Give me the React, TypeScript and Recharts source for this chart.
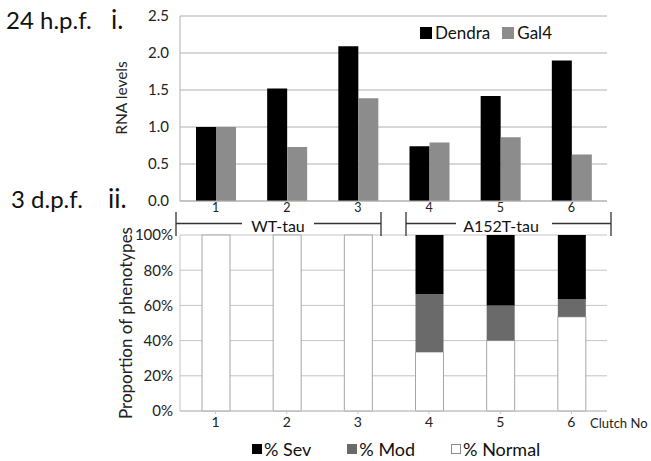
import React from "react";
import {
  BarChart,
  Bar,
  XAxis,
  YAxis,
  CartesianGrid,
  Legend,
} from "recharts";

// clutch numbers on both panels
const clutches = ["1", "2", "3", "4", "5", "6"];

// panel i: relative RNA levels at 24 h.p.f.
const dendra = [1.0, 1.52, 2.09, 0.74, 1.42, 1.9];
const gal4 = [1.0, 0.73, 1.39, 0.79, 0.86, 0.63];
const rnaTicks = [0, 0.5, 1, 1.5, 2, 2.5];

// panel ii: phenotype proportions at 3 d.p.f. (%)
const pctNormal = [100, 100, 100, 33.5, 40, 53.5];
const pctMod = [0, 0, 0, 33, 20, 10];
const pctSev = [0, 0, 0, 33.5, 40, 36.5];
const pctTicks = [0, 20, 40, 60, 80, 100];

const groups = [
  { name: "WT-tau", from: 176, to: 381, textX: 278, gapL: 242, gapR: 314 },
  { name: "A152T-tau", from: 406, to: 611, textX: 501, gapL: 456, gapR: 552 },
];

const rnaSeries = [
  { key: "dendra", name: "Dendra", color: "#000000" },
  { key: "gal4", name: "Gal4", color: "#8c8c8c" },
];

// legend order differs from stacking order (bottom first)
const phenoSeries = [
  { key: "sev", name: "% Sev", color: "#000000" },
  { key: "mod", name: "% Mod", color: "#6a6a6a" },
  { key: "normal", name: "% Normal", color: "#ffffff" },
];

const rnaData = clutches.map((c, i) => ({
  clutch: c,
  dendra: dendra[i],
  gal4: gal4[i],
}));

const phenoData = clutches.map((c, i) => ({
  clutch: c,
  normal: pctNormal[i],
  mod: pctMod[i],
  sev: pctSev[i],
}));

const FONT = "Lato, 'Open Sans', sans-serif";
const GRID = "#b0b0b0";

const SwatchLegend = ({
  items,
  gap,
  box,
  fontSize,
  space,
}: {
  items: { name: string; color: string }[];
  gap: number;
  box: number;
  fontSize: number;
  space: number;
}) => (
  <div
    style={{
      display: "flex",
      gap,
      fontSize,
      lineHeight: "22px",
      color: "#111",
      fontFamily: FONT,
      whiteSpace: "nowrap",
    }}
  >
    {items.map((it) => (
      <span key={it.name} style={{ display: "flex", alignItems: "center" }}>
        <span
          style={{
            display: "inline-block",
            width: box,
            height: box,
            boxSizing: "border-box",
            background: it.color,
            border: `1px solid ${it.color === "#ffffff" ? "#8c8c8c" : it.color}`,
            marginRight: space,
          }}
        />
        {it.name}
      </span>
    ))}
  </div>
);

const Rotated = ({ x, y, size, children }: any) => (
  <text
    x={x}
    y={y}
    transform={`rotate(-90 ${x} ${y})`}
    textAnchor="middle"
    dominantBaseline="central"
    fontSize={size}
    fill="#222"
  >
    {children}
  </text>
);

export default function App() {
  return (
    <div
      style={{
        position: "absolute",
        left: 0,
        top: 0,
        width: 651,
        height: 461,
        background: "#fff",
        fontFamily: FONT,
      }}
    >
      <div style={{ position: "absolute", left: 0, top: 0 }}>
        <BarChart
          width={651}
          height={216}
          data={rnaData}
          margin={{ top: 16, right: 44, bottom: 0, left: 0 }}
          barGap={0}
          barSize={20}
        >
          <CartesianGrid vertical={false} stroke={GRID} />
          <XAxis
            dataKey="clutch"
            height={15}
            tickLine={false}
            tickSize={0}
            tickMargin={2}
            axisLine={{ stroke: GRID }}
            tick={{ fontSize: 12.5, fill: "#222" }}
          />
          <YAxis
            width={180}
            domain={[0, 2.5]}
            ticks={rnaTicks}
            tickFormatter={(v: number) => v.toFixed(1)}
            tickLine={false}
            tickSize={0}
            tickMargin={11}
            axisLine={{ stroke: GRID }}
            tick={{ fontSize: 15, fill: "#222" }}
          />
          <Legend
            layout="horizontal"
            verticalAlign="middle"
            wrapperStyle={{ top: 22, left: 420, width: 200 }}
            content={() => (
              <SwatchLegend
                items={rnaSeries}
                gap={12}
                box={12}
                fontSize={17}
                space={3}
              />
            )}
          />
          {rnaSeries.map((s) => (
            <Bar
              key={s.key}
              dataKey={s.key}
              name={s.name}
              fill={s.color}
              isAnimationActive={false}
            />
          ))}
        </BarChart>
      </div>

      <div style={{ position: "absolute", left: 0, top: 225 }}>
        <BarChart
          width={651}
          height={236}
          data={phenoData}
          margin={{ top: 10, right: 44, bottom: 24, left: 0 }}
          barSize={28}
        >
          <CartesianGrid vertical={false} stroke="#c4c4c4" />
          <XAxis
            dataKey="clutch"
            height={26}
            tickSize={3}
            tickMargin={3}
            tickLine={{ stroke: "#c4c4c4" }}
            axisLine={{ stroke: "#c4c4c4" }}
            tick={{ fontSize: 14, fill: "#222" }}
          />
          <YAxis
            width={180}
            domain={[0, 100]}
            ticks={pctTicks}
            tickFormatter={(v: number) => `${v}%`}
            tickLine={false}
            tickSize={0}
            tickMargin={7}
            axisLine={{ stroke: "#c4c4c4" }}
            tick={{ fontSize: 15, fill: "#222" }}
          />
          <Legend
            layout="horizontal"
            verticalAlign="middle"
            wrapperStyle={{ top: 213, left: 252, width: 340 }}
            content={() => (
              <SwatchLegend
                items={phenoSeries}
                gap={36}
                box={10}
                fontSize={18}
                space={2}
              />
            )}
          />
          <Bar
            dataKey="normal"
            name="% Normal"
            stackId="p"
            fill="#ffffff"
            stroke="#a6a6a6"
            strokeWidth={1}
            isAnimationActive={false}
          />
          <Bar
            dataKey="mod"
            name="% Mod"
            stackId="p"
            fill="#6a6a6a"
            isAnimationActive={false}
          />
          <Bar
            dataKey="sev"
            name="% Sev"
            stackId="p"
            fill="#000000"
            isAnimationActive={false}
          />
        </BarChart>
      </div>

      <svg
        width={651}
        height={461}
        style={{ position: "absolute", left: 0, top: 0, pointerEvents: "none" }}
        fontFamily={FONT}
      >
        <text x={6} y={29} fontSize={24} fill="#111">
          24 h.p.f.
        </text>
        <text x={111} y={29} fontSize={26} fill="#111">
          i.
        </text>
        <text x={11} y={208} fontSize={24} fill="#111">
          3 d.p.f.
        </text>
        <text x={108} y={208} fontSize={26} fill="#111">
          ii.
        </text>
        <Rotated x={121} y={98} size={15.5}>
          RNA levels
        </Rotated>
        <Rotated x={125} y={323} size={17}>
          Proportion of phenotypes
        </Rotated>
        {groups.map((g) => (
          <g key={g.name} stroke="#333" strokeWidth={1.3}>
            <line x1={g.from} y1={212} x2={g.from} y2={236} />
            <line x1={g.to} y1={212} x2={g.to} y2={236} />
            <line x1={g.from} y1={223.5} x2={g.gapL} y2={223.5} />
            <line x1={g.gapR} y1={223.5} x2={g.to} y2={223.5} />
            <text
              x={g.textX}
              y={225}
              stroke="none"
              fill="#111"
              fontSize={16}
              textAnchor="middle"
              dominantBaseline="central"
            >
              {g.name}
            </text>
          </g>
        ))}
        <text x={590} y={423} fontSize={13} fill="#222" dominantBaseline="central">
          Clutch No
        </text>
      </svg>
    </div>
  );
}
